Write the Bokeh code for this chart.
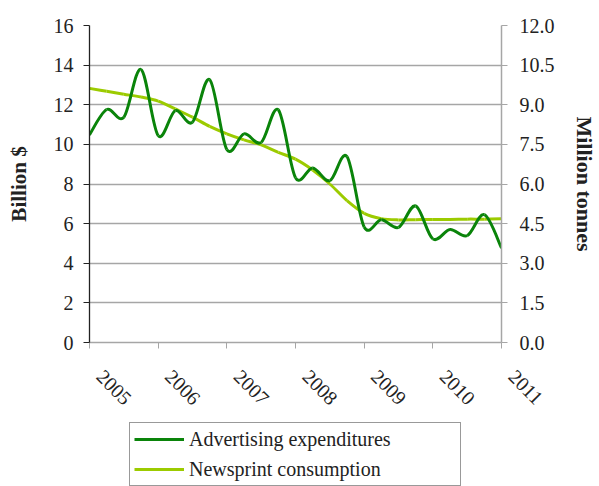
import numpy as np
from bokeh.plotting import figure
from bokeh.layouts import column
from bokeh.models import (Range1d, LinearAxis, FixedTicker, Legend, LegendItem,
                          ColumnDataSource, NumeralTickFormatter)
from bokeh.embed import file_html
from bokeh.resources import INLINE
from math import pi

# ---- data (quarterly) ----
quarters = [2005.00, 2005.25, 2005.50, 2005.75,
            2006.00, 2006.25, 2006.50, 2006.75,
            2007.00, 2007.25, 2007.50, 2007.75,
            2008.00, 2008.25, 2008.50, 2008.75,
            2009.00, 2009.25, 2009.50, 2009.75,
            2010.00, 2010.25, 2010.50, 2010.75,
            2011.00]
advertising = [10.48, 11.76, 11.37, 13.78,
               10.44, 11.70, 11.12, 13.27,
               9.74, 10.53, 10.10, 11.74,
               8.32, 8.81, 8.17, 9.38,
               5.83, 6.19, 5.81, 6.89,
               5.23, 5.70, 5.39, 6.45,
               4.77]
newsprint = [9.62, 9.51, 9.40, 9.29,
             9.14, 8.84, 8.53, 8.18,
             7.90, 7.67, 7.48, 7.20,
             6.94, 6.53, 6.00, 5.37,
             4.89, 4.69, 4.64, 4.65,
             4.66, 4.66, 4.67, 4.67,
             4.68]
year_ticks = [2005, 2006, 2007, 2008, 2009, 2010, 2011]
year_labels = ["2005", "2006", "2007", "2008", "2009", "2010", "2011"]
left_ticks = [0, 2, 4, 6, 8, 10, 12, 14, 16]
right_ticks = [0, 1.5, 3, 4.5, 6, 7.5, 9, 10.5, 12]

FONT = "Liberation Serif"
AD_COLOR = "#0A840A"
NP_COLOR = "#9CCB00"
TXT = "#222222"
PAD = "\u00a0" * 3   # nudges the slanted year labels to the right of their ticks


def smooth_segments(xs, ys):
    """Catmull-Rom control points (as Excel's smoothed line) for bezier glyphs."""
    x = np.asarray(xs, float)
    y = np.asarray(ys, float)
    n = len(x)
    xp = np.concatenate([[x[0]], x, [x[-1]]])
    yp = np.concatenate([[y[0]], y, [y[-1]]])
    d = dict(x0=[], y0=[], x1=[], y1=[], cx0=[], cy0=[], cx1=[], cy1=[])
    for i in range(n - 1):
        j = i + 1
        d["x0"].append(xp[j]); d["y0"].append(yp[j])
        d["x1"].append(xp[j + 1]); d["y1"].append(yp[j + 1])
        d["cx0"].append(xp[j] + (xp[j + 1] - xp[j - 1]) / 6)
        d["cy0"].append(yp[j] + (yp[j + 1] - yp[j - 1]) / 6)
        d["cx1"].append(xp[j + 1] - (xp[j + 2] - xp[j]) / 6)
        d["cy1"].append(yp[j + 1] - (yp[j + 2] - yp[j]) / 6)
    return ColumnDataSource(d)


xr = Range1d(year_ticks[0], year_ticks[-1])
p = figure(width=599, height=422, output_backend="svg", toolbar_location=None,
           x_range=xr, y_range=Range1d(0, 16),
           min_border_left=89, min_border_right=94, min_border_top=25,
           min_border_bottom=80)
p.outline_line_color = None
p.extra_y_ranges = {"mt": Range1d(0, 12)}

# grid
p.xgrid.grid_line_color = None
p.ygrid.grid_line_color = "#A6A6A6"
p.ygrid.grid_line_width = 1.3
p.ygrid.ticker = FixedTicker(ticks=left_ticks)

# left axis
la = p.yaxis[0]
la.ticker = FixedTicker(ticks=left_ticks)
la.axis_label = "Billion $"
la.axis_label_text_font = FONT
la.axis_label_text_font_style = "bold"
la.axis_label_text_font_size = "21px"
la.axis_label_text_color = TXT
la.axis_label_standoff = 20
la.axis_line_color = "#222222"
la.axis_line_width = 1.3
la.major_tick_line_color = "#222222"
la.major_tick_out = 6
la.major_tick_in = 0
la.minor_tick_line_color = None
la.major_label_text_font = FONT
la.major_label_text_font_size = "20px"
la.major_label_text_color = TXT
la.major_label_standoff = 10

# right axis
ra = LinearAxis(y_range_name="mt", ticker=FixedTicker(ticks=right_ticks),
                formatter=NumeralTickFormatter(format="0.0"))
ra.axis_label = "Million tonnes"
ra.axis_label_text_font = FONT
ra.axis_label_text_font_style = "bold"
ra.axis_label_text_font_size = "22px"
ra.axis_label_text_color = TXT
ra.axis_label_standoff = 14
ra.axis_line_color = "#A6A6A6"
ra.axis_line_width = 1.5
ra.major_tick_line_color = "#A6A6A6"
ra.major_tick_out = 6
ra.major_tick_in = 0
ra.minor_tick_line_color = None
ra.major_label_text_font = FONT
ra.major_label_text_font_size = "20px"
ra.major_label_text_color = TXT
ra.major_label_standoff = 12
p.add_layout(ra, "right")

# bottom axis
xa = p.xaxis[0]
xa.ticker = FixedTicker(ticks=year_ticks)
xa.major_label_overrides = {t: PAD + s for t, s in zip(year_ticks, year_labels)}
xa.axis_line_color = "#A6A6A6"
xa.axis_line_width = 1.5
xa.major_tick_line_color = "#A6A6A6"
xa.major_tick_out = 6
xa.major_tick_in = 0
xa.minor_tick_line_color = None
xa.major_label_orientation = -pi / 4
xa.major_label_text_font = FONT
xa.major_label_text_font_size = "20px"
xa.major_label_text_color = TXT
xa.major_label_standoff = 14

# lines (smoothed)
ad_src = smooth_segments(quarters, advertising)
np_src = smooth_segments(quarters, newsprint)
p.bezier(x0="x0", y0="y0", x1="x1", y1="y1", cx0="cx0", cy0="cy0",
         cx1="cx1", cy1="cy1", source=np_src, line_color=NP_COLOR,
         line_width=3, y_range_name="mt")
p.bezier(x0="x0", y0="y0", x1="x1", y1="y1", cx0="cx0", cy0="cy0",
         cx1="cx1", cy1="cy1", source=ad_src, line_color=AD_COLOR,
         line_width=3)

# ---- legend strip below the chart ----
p2 = figure(width=599, height=64, output_backend="svg", toolbar_location=None,
            x_range=xr, y_range=Range1d(100, 101),   # series lie outside this view
            x_axis_type=None, y_axis_type=None, min_border=0)
p2.outline_line_color = None
p2.grid.grid_line_color = None
k_ad = p2.line(x=quarters, y=advertising, line_color=AD_COLOR, line_width=3)
k_np = p2.line(x=quarters, y=newsprint, line_color=NP_COLOR, line_width=3)

legend = Legend(items=[LegendItem(label="Advertising expenditures", renderers=[k_ad]),
                       LegendItem(label="Newsprint consumption", renderers=[k_np])],
                location="center", orientation="vertical")
legend.label_text_font = FONT
legend.label_text_font_size = "20px"
legend.label_text_color = TXT
legend.glyph_width = 50
legend.glyph_height = 24
legend.label_height = 24
legend.label_standoff = 5
legend.spacing = 6
legend.padding = 4
legend.margin = 0
legend.label_width = 267
legend.border_line_color = "#333333"
legend.border_line_width = 1
p2.add_layout(legend, "center")

open("out.html", "w").write(file_html(column(p, p2, spacing=0), INLINE))
